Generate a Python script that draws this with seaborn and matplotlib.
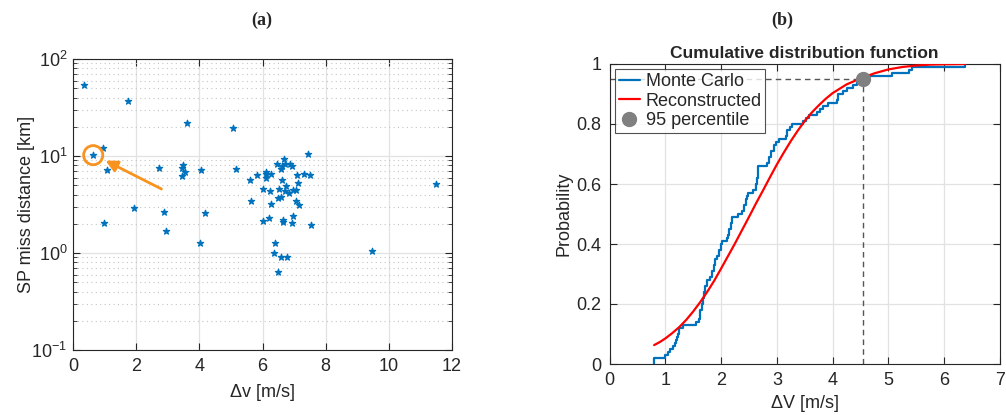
import numpy as np
import pandas as pd
import matplotlib
matplotlib.use("Agg")
import matplotlib.pyplot as plt
import seaborn as sns
from matplotlib.ticker import LogLocator, FixedLocator, FixedFormatter, NullLocator, LogFormatterMathtext

# ---------------- data ----------------
# (a) scatter: delta-v [m/s] vs SP miss distance [km]
dv = [0.35, 0.64, 0.94, 1.07, 0.99, 1.73, 1.92, 2.73, 2.88, 2.95,
      3.44, 3.49, 3.54, 3.45, 3.60, 4.01, 4.06, 4.17, 5.06, 5.15,
      5.60, 5.65, 5.83, 6.10, 6.10, 6.10, 6.27, 6.47, 6.57, 6.62,
      6.72, 6.87, 6.93, 6.68, 7.43, 7.09, 7.32, 7.50, 6.62, 6.75,
      7.12, 6.02, 6.24, 6.53, 6.71, 6.85, 6.98, 7.05, 6.48, 6.57,
      7.05, 7.17, 6.27, 6.97, 6.02, 6.19, 6.64, 6.65, 6.93, 7.54,
      6.40, 6.37, 6.59, 6.76, 6.48, 9.47, 11.48]
miss = [54.0, 10.2, 12.1, 7.2, 2.04, 37.0, 2.9, 7.5, 2.67, 1.67,
        7.6, 8.1, 6.9, 6.2, 22.0, 1.26, 7.1, 2.6, 19.3, 7.3,
        5.7, 3.4, 6.3, 6.9, 6.5, 6.0, 6.5, 8.2, 7.3, 7.9,
        8.2, 8.2, 7.8, 9.25, 10.5, 6.4, 6.6, 6.4, 5.7, 4.9,
        5.3, 4.6, 4.4, 4.6, 4.35, 4.2, 4.45, 4.45, 3.65, 3.8,
        3.4, 3.1, 3.2, 2.39, 2.15, 2.28, 2.2, 2.1, 2.05, 1.93,
        1.27, 1.01, 0.90, 0.92, 0.64, 1.05, 5.2]
highlight_dv, highlight_miss = 0.64, 10.2
arrow_tail = (2.8, 4.57)
arrow_head = (1.03, 8.96)

# (b) empirical CDF (Monte Carlo) step breakpoints
cdf_x = [0.80, 0.80, 1.00, 1.05, 1.09, 1.13, 1.17, 1.19, 1.21, 1.22,
         1.24, 1.32, 1.55, 1.61, 1.62, 1.63, 1.65, 1.67, 1.69, 1.72,
         1.74, 1.80, 1.83, 1.87, 1.90, 1.93, 1.96, 2.00, 2.01, 2.10,
         2.12, 2.15, 2.18, 2.20, 2.31, 2.37, 2.41, 2.44, 2.47, 2.49,
         2.58, 2.62, 2.65, 2.67, 2.82, 2.86, 2.90, 2.94, 2.98, 3.03,
         3.16, 3.19, 3.24, 3.28, 3.47, 3.53, 3.58, 3.72, 3.77, 3.83,
         3.92, 4.07, 4.10, 4.19, 4.25, 4.37, 4.44, 4.52, 4.64, 5.06,
         5.36, 5.42, 6.38]
cdf_p = [0.00, 0.02, 0.03, 0.04, 0.05, 0.06, 0.07, 0.08, 0.09, 0.10,
         0.12, 0.13, 0.14, 0.15, 0.16, 0.18, 0.20, 0.22, 0.24, 0.26,
         0.28, 0.29, 0.31, 0.33, 0.35, 0.36, 0.38, 0.40, 0.41, 0.42,
         0.43, 0.45, 0.47, 0.49, 0.50, 0.51, 0.53, 0.55, 0.56, 0.57,
         0.58, 0.60, 0.62, 0.66, 0.67, 0.69, 0.71, 0.73, 0.74, 0.75,
         0.76, 0.78, 0.79, 0.80, 0.81, 0.82, 0.83, 0.84, 0.85, 0.86,
         0.87, 0.88, 0.90, 0.91, 0.92, 0.93, 0.94, 0.95, 0.96, 0.97,
         0.98, 0.99, 1.00]
# reconstructed CDF
rec_x = [0.80, 0.90, 1.00, 1.125, 1.25, 1.375, 1.50, 1.625, 1.75, 1.875,
         2.00, 2.125, 2.25, 2.375, 2.50, 2.625, 2.75, 2.875, 3.00, 3.125,
         3.25, 3.375, 3.50, 3.625, 3.75, 3.875, 4.00, 4.25, 4.50, 4.75,
         5.00, 5.25, 5.50, 5.75, 6.00, 6.38]
rec_p = [0.063, 0.073, 0.085, 0.103, 0.123, 0.147, 0.175, 0.206, 0.240, 0.277,
         0.318, 0.360, 0.402, 0.446, 0.490, 0.535, 0.578, 0.622, 0.665, 0.705,
         0.743, 0.778, 0.810, 0.838, 0.862, 0.884, 0.903, 0.932, 0.952, 0.969,
         0.982, 0.990, 0.995, 0.998, 0.999, 1.000]
p95_x, p95_p = 4.55, 0.95

# ---------------- style ----------------
sns.set_style("ticks")
plt.rcParams["font.family"] = ["Liberation Sans", "DejaVu Sans"]
plt.rcParams["mathtext.fontset"] = "custom"
plt.rcParams["mathtext.rm"] = "Liberation Sans"
plt.rcParams["axes.edgecolor"] = "#262626"
plt.rcParams["axes.linewidth"] = 0.8

BLUE = "#0072BD"
ORANGE = "#F7931E"
GRID = "#e2e2e2"

fig = plt.figure(figsize=(10.06, 4.15), dpi=100)
ax1 = fig.add_axes([73 / 1006, 65 / 415, 379 / 1006, 291 / 415])
ax2 = fig.add_axes([609.5 / 1006, 51 / 415, 390.5 / 1006, 300 / 415])

# ---------------- (a) ----------------
df_a = pd.DataFrame({"dv": dv, "miss": miss})
sns.scatterplot(data=df_a, x="dv", y="miss", ax=ax1, marker="*", s=22,
                color=BLUE, edgecolor=BLUE, linewidth=0.9, zorder=3)
ax1.set_yscale("log")
ax1.set_xlim(0, 12)
ax1.set_ylim(0.1, 100)
ax1.set_xticks(range(0, 13, 2))
ax1.xaxis.set_minor_locator(NullLocator())
ax1.yaxis.set_major_locator(LogLocator(base=10, numticks=10))
ax1.yaxis.set_minor_locator(LogLocator(base=10, subs=np.arange(2, 10), numticks=20))
ax1.yaxis.set_major_formatter(LogFormatterMathtext())
ax1.set_axisbelow(True)
ax1.grid(which="major", color=GRID, lw=0.9)
ax1.grid(which="minor", axis="y", color="#c4c4c4", ls=(0, (1, 3)), lw=0.8)
ax1.tick_params(which="both", direction="in", top=True, right=True, labelsize=13,
                colors="#262626", pad=6)
ax1.tick_params(axis="y", which="both", pad=4)
ax1.tick_params(which="major", length=5)
ax1.tick_params(which="minor", length=3)
ax1.set_xlabel("Δv [m/s]", fontsize=13, labelpad=6)
ax1.set_ylabel("SP miss distance [km]", fontsize=13)
ax1.yaxis.set_label_coords(-0.1, 0.5)

ax1.scatter([highlight_dv], [highlight_miss], s=190, facecolors="none",
            edgecolors=ORANGE, linewidths=2, zorder=4)
ax1.annotate("", xy=arrow_head, xytext=arrow_tail,
             arrowprops=dict(arrowstyle="-|>,head_width=0.35,head_length=0.7",
                             color=ORANGE, lw=2, shrinkA=0, shrinkB=0), zorder=4)

# ---------------- (b) ----------------
sns.lineplot(x=cdf_x, y=cdf_p, ax=ax2, drawstyle="steps-post", estimator=None,
             sort=False, color=BLUE, lw=1.6, label="Monte Carlo", zorder=3)
sns.lineplot(x=rec_x, y=rec_p, ax=ax2, estimator=None, sort=False,
             color="red", lw=1.6, label="Reconstructed", zorder=4)
ax2.plot([0, p95_x], [p95_p, p95_p], ls=(0, (4, 3)), color="#555555", lw=1, zorder=2)
ax2.plot([p95_x, p95_x], [0, p95_p], ls=(0, (4, 3)), color="#555555", lw=1, zorder=2)
ax2.plot([p95_x], [p95_p], "o", color="#808080", ms=10, ls="none",
         label="95 percentile", zorder=5)
ax2.set_xlim(0, 7)
ax2.set_ylim(0, 1)
ax2.set_xticks(range(0, 8))
ax2.yaxis.set_major_locator(FixedLocator([0, 0.2, 0.4, 0.6, 0.8, 1.0]))
ax2.yaxis.set_major_formatter(FixedFormatter(["0", "0.2", "0.4", "0.6", "0.8", "1"]))
ax2.set_axisbelow(True)
ax2.grid(which="major", color=GRID, lw=0.9)
ax2.tick_params(which="both", direction="in", top=True, right=True, labelsize=13,
                length=5, colors="#262626", pad=6)
ax2.set_xlabel("ΔV [m/s]", fontsize=13, labelpad=4)
ax2.set_ylabel("Probability", fontsize=13)
ax2.yaxis.set_label_coords(-0.095, 0.5)
ax2.set_title("Cumulative distribution function", fontsize=12.5, fontweight="bold", pad=4)
leg = ax2.legend(loc="upper left", fontsize=13, frameon=True, fancybox=False,
                 edgecolor="#262626", handlelength=1.2, handletextpad=0.3,
                 borderpad=0.2, labelspacing=0.15, borderaxespad=0.3)
leg.get_frame().set_linewidth(0.8)

# panel labels
fig.text(262 / 1006, 1 - 20 / 415, "(a)", ha="center", va="center",
         fontsize=13, family=["Liberation Serif", "DejaVu Serif"], fontweight="bold")
fig.text(782 / 1006, 1 - 20 / 415, "(b)", ha="center", va="center",
         fontsize=13, family=["Liberation Serif", "DejaVu Serif"], fontweight="bold")

fig.savefig("out.png", dpi=100)
